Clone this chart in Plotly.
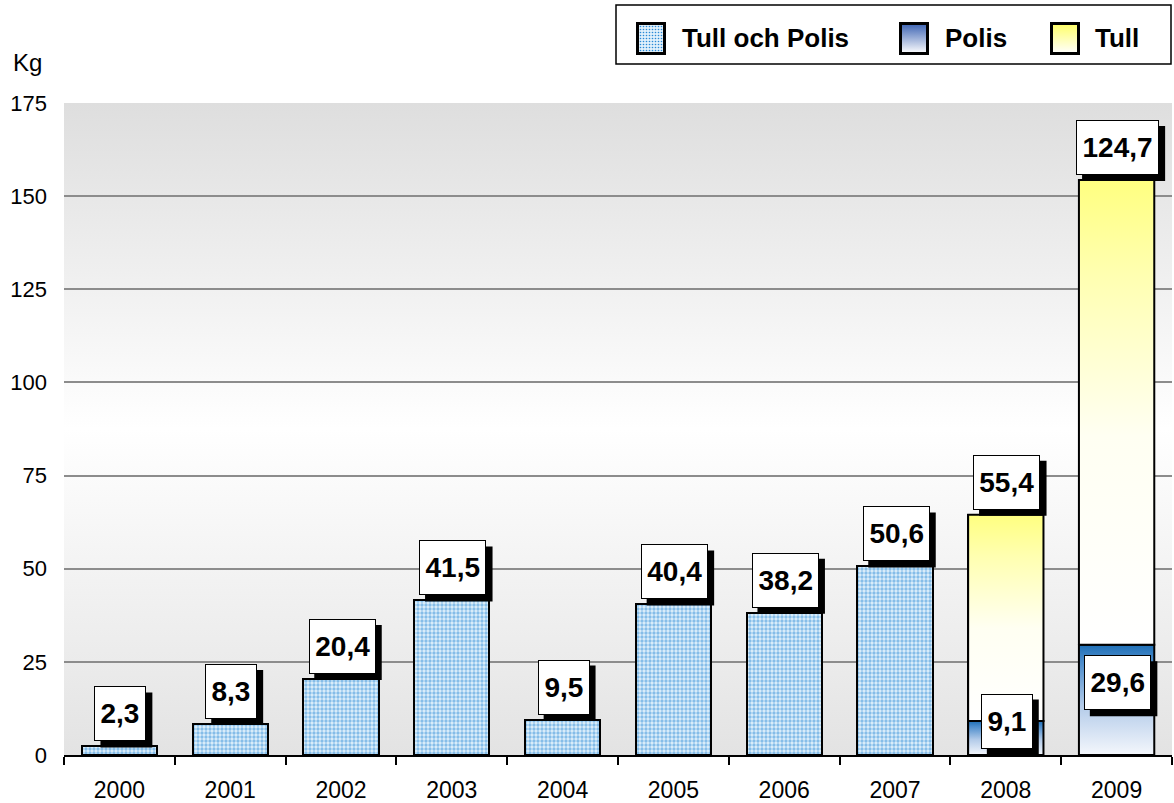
import base64
import numpy as np
import plotly.graph_objects as go

# ---------------- data ----------------
years = ["2000", "2001", "2002", "2003", "2004", "2005", "2006", "2007", "2008", "2009"]
tull_och_polis = [2.3, 8.3, 20.4, 41.5, 9.5, 40.4, 38.2, 50.6, None, None]
polis = [None, None, None, None, None, None, None, None, 9.1, 29.6]
tull = [None, None, None, None, None, None, None, None, 55.4, 124.7]
y_ticks = [0, 25, 50, 75, 100, 125, 150, 175]

# ---------------- layout helpers ----------------
W, H = 1174, 803
ML, MR, MT, MB = 64, 2, 103, 48
PW, PH = W - ML - MR, H - MT - MB
BAR_W = 0.68
FONT = "Liberation Sans, Arial, sans-serif"


def px_x(p):
    return (p - ML) / PW


def px_y(p):
    return (H - MB - p) / PH


def svg_uri(svg):
    return "data:image/svg+xml;base64," + base64.b64encode(svg.encode()).decode()


def fmt(v):
    return f"{v:.1f}".replace(".", ",")


def text_w(s, size):
    em = sum(0.278 if c in ",." else 0.556 for c in s)
    return em * size


idx = np.arange(len(years))
top_vals = np.array([np.nan if v is None else v for v in tull_och_polis], dtype=float)
pol_vals = np.array([np.nan if v is None else v for v in polis], dtype=float)
tul_vals = np.array([np.nan if v is None else v for v in tull], dtype=float)

fig = go.Figure()

# Tull och Polis (dotted bars)
m = ~np.isnan(top_vals)
fig.add_trace(go.Bar(
    x=idx[m], y=top_vals[m], width=BAR_W, name="Tull och Polis", showlegend=False,
    marker=dict(color="#e0f0fb", line=dict(color="black", width=2),
                pattern=dict(shape=".", fgcolor="#2a8ad6", size=4, solidity=0.55,
                             fillmode="overlay")),
    hoverinfo="skip",
))
m2 = ~np.isnan(pol_vals)
fig.add_trace(go.Bar(
    x=idx[m2], y=pol_vals[m2], width=BAR_W, name="Polis", showlegend=False,
    marker=dict(color="#8db8e0", line=dict(color="black", width=2)), hoverinfo="skip",
))
fig.add_trace(go.Bar(
    x=idx[m2], y=tul_vals[m2], width=BAR_W, name="Tull", showlegend=False,
    marker=dict(color="#ffffd0", line=dict(color="black", width=2)), hoverinfo="skip",
))

# gradient overlays computed from the same data
polis_scale = [[0, "#f4f7fc"], [0.45, "#b3cbe9"], [0.85, "#4a8bcb"], [1, "#1f6fb5"]]
tull_scale = [[0, "#ffffff"], [0.45, "#fffff2"], [0.8, "#ffffb0"], [1, "#ffff80"]]
for i in idx[m2]:
    p, t = pol_vals[i], tul_vals[i]
    xs = [i - BAR_W / 2, i + BAR_W / 2, i + BAR_W / 2, i - BAR_W / 2, i - BAR_W / 2]
    fig.add_trace(go.Scatter(
        x=xs, y=[0, 0, p, p, 0], mode="lines", fill="toself",
        fillgradient=dict(type="vertical", colorscale=polis_scale),
        line=dict(color="black", width=2), showlegend=False, hoverinfo="skip",
    ))
    fig.add_trace(go.Scatter(
        x=xs, y=[p, p, p + t, p + t, p], mode="lines", fill="toself",
        fillgradient=dict(type="vertical", colorscale=tull_scale),
        line=dict(color="black", width=2), showlegend=False, hoverinfo="skip",
    ))

# ---------------- value labels ----------------
LBL = 28
BOX_H = 45
PAD = 4
SH = 6  # shadow offset (px)
annotations = []
shapes = []


def add_label(x, y, s, yanchor, yshift):
    w = text_w(s, LBL) + 3
    bw = w + 2 * PAD + 2       # full box width in px
    bh = BOX_H + 2 * PAD + 2   # full box height in px
    xs = 1
    if yanchor == "bottom":
        b0 = yshift
    else:
        b0 = yshift - bh / 2
    # drop shadow (pixel-sized shape anchored at the data point)
    shapes.append(dict(type="rect", xref="x", yref="y", xsizemode="pixel", ysizemode="pixel",
                       xanchor=x, yanchor=y,
                       x0=xs - bw / 2 + SH, x1=xs + bw / 2 + SH,
                       y0=b0 - SH, y1=b0 + bh - SH,
                       fillcolor="black", line=dict(width=0), layer="above"))
    annotations.append(dict(text=f"<b>{s}</b>", x=x, y=y, xref="x", yref="y",
                            showarrow=False, width=w, height=BOX_H, borderpad=PAD,
                            borderwidth=1, bgcolor="white", bordercolor="black",
                            yanchor=yanchor, xanchor="center", xshift=xs, yshift=yshift,
                            font=dict(family=FONT, size=LBL, color="black")))


for i in idx[m]:
    add_label(int(i), top_vals[i], fmt(top_vals[i]), "bottom", 5)
for i in idx[m2]:
    add_label(int(i), pol_vals[i] + tul_vals[i], fmt(tul_vals[i]), "bottom", 5)
    add_label(int(i), pol_vals[i] / 2, fmt(pol_vals[i]), "middle", 17)

# axis unit
annotations.append(dict(text="Kg", xref="paper", yref="paper", x=px_x(11), y=px_y(63),
                        xanchor="left", yanchor="middle", showarrow=False,
                        font=dict(family=FONT, size=24, color="black")))

# ---------------- custom legend ----------------
legend_items = ["Tull och Polis", "Polis", "Tull"]
sw_x = [636, 899, 1050]
tx_x = [680, 943, 1093]
dots_svg = ("<svg xmlns='http://www.w3.org/2000/svg' width='30' height='33'>"
            "<defs><pattern id='p' width='3' height='3' patternUnits='userSpaceOnUse'>"
            "<rect width='3' height='3' fill='#e0f0fb'/><circle cx='1.5' cy='1.5' r='0.8' fill='#2a8ad6'/>"
            "</pattern></defs><rect x='1.5' y='1.5' width='27' height='30' fill='url(#p)' "
            "stroke='black' stroke-width='3'/></svg>")


def grad_svg(top, bottom):
    return ("<svg xmlns='http://www.w3.org/2000/svg' width='30' height='33'>"
            "<defs><linearGradient id='g' x1='0' y1='0' x2='0' y2='1'>"
            f"<stop offset='0' stop-color='{top}'/><stop offset='1' stop-color='{bottom}'/>"
            "</linearGradient></defs><rect x='1.5' y='1.5' width='27' height='30' "
            "fill='url(#g)' stroke='black' stroke-width='3'/></svg>")


swatches = [dots_svg, grad_svg("#3b62b2", "#ffffff"), grad_svg("#ffff66", "#ffffff")]

bg_svg = ("<svg xmlns='http://www.w3.org/2000/svg' width='100' height='100' preserveAspectRatio='none'>"
          "<defs><linearGradient id='g' x1='0' y1='0' x2='0' y2='1'>"
          "<stop offset='0' stop-color='#dedede'/><stop offset='0.5' stop-color='#ffffff'/>"
          "<stop offset='1' stop-color='#e3e3e3'/></linearGradient></defs>"
          "<rect width='100' height='100' fill='url(#g)'/></svg>")

images = [dict(source=svg_uri(bg_svg), xref="paper", yref="paper", x=0, y=1, sizex=1, sizey=1,
               xanchor="left", yanchor="top", sizing="stretch", layer="below")]
for sx, svg in zip(sw_x, swatches):
    images.append(dict(source=svg_uri(svg), xref="paper", yref="paper",
                       x=px_x(sx), y=px_y(22), sizex=30 / PW, sizey=33 / PH,
                       xanchor="left", yanchor="top", sizing="stretch", layer="above"))
for tx, name in zip(tx_x, legend_items):
    annotations.append(dict(text=f"<b>{name}</b>", xref="paper", yref="paper",
                            x=px_x(tx), y=px_y(38), xanchor="left", yanchor="middle",
                            showarrow=False, font=dict(family=FONT, size=26, color="black")))

shapes.append(dict(type="rect", xref="paper", yref="paper", x0=px_x(616), x1=px_x(1171),
                   y0=px_y(64), y1=px_y(5), line=dict(color="black", width=1.5),
                   fillcolor="white", layer="below"))

fig.update_layout(
    width=W, height=H, barmode="stack", autosize=False,
    margin=dict(l=ML, r=MR, t=MT, b=MB, pad=0, autoexpand=False),
    paper_bgcolor="white", plot_bgcolor="rgba(0,0,0,0)",
    font=dict(family=FONT, size=22, color="black"),
    showlegend=False,
    annotations=annotations, images=images, shapes=shapes,
    xaxis=dict(range=[-0.5, 9.5], tickmode="array", tickvals=list(idx), ticktext=years,
               ticks="", showgrid=False, zeroline=False, showline=True, automargin=False,
               linecolor="black", linewidth=2, ticklabelstandoff=13,
               tickfont=dict(family=FONT, size=23, color="black"),
               minor=dict(tick0=0.5, dtick=1, ticks="outside", ticklen=8, tickwidth=2,
                          tickcolor="black", showgrid=False)),
    yaxis=dict(range=[0, 175], tickmode="array", tickvals=y_ticks, ticks="",
               showgrid=True, gridcolor="#8c8c8c", gridwidth=2, zeroline=False,
               showline=False, ticklabelstandoff=16, automargin=False,
               tickfont=dict(family=FONT, size=22, color="black")),
)

fig.write_html(
    "out.html",
    config={"displayModeBar": False},
    post_script="document.body.style.margin='0';document.body.style.overflow='hidden';",
)
